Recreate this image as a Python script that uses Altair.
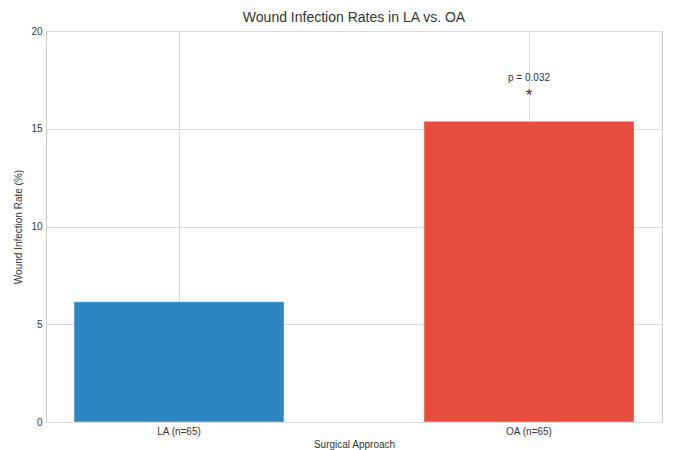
import altair as alt
import pandas as pd

groups = ["LA (n=65)", "OA (n=65)"]
rates = [6.15, 15.38]
colors = ["#2E86C1", "#E74C3C"]

ann_group = ["OA (n=65)"]
p_text = ["p = 0.032"]
p_y = [17.6]
star_text = ["*"]
star_y = [16.85]

df = pd.DataFrame({"group": groups, "rate": rates, "color": colors})
ann_p = pd.DataFrame({"group": ann_group, "y": p_y, "t": p_text})
ann_s = pd.DataFrame({"group": ann_group, "y": star_y, "t": star_text})

xenc = alt.X("group:N", sort=groups, title="Surgical Approach",
             scale=alt.Scale(paddingInner=0.4, paddingOuter=0.08),
             axis=alt.Axis(labelAngle=0, ticks=False, grid=True, gridColor="#d9d9d9",
                           domain=False, labelFontSize=10, labelColor="#333333",
                           titleFontSize=10, titleColor="#333333", titleFontWeight="normal",
                           labelPadding=4, titlePadding=3, titleFont="Liberation Sans",
                           labelFont="Liberation Sans"))

bars = alt.Chart(df).mark_bar(stroke="#ffffff", strokeOpacity=0.4, strokeWidth=1).encode(
    x=xenc,
    y=alt.Y("rate:Q", title="Wound Infection Rate (%)",
            scale=alt.Scale(domain=[0, 20]),
            axis=alt.Axis(values=[0, 5, 10, 15, 20], ticks=False, domain=False,
                          gridColor="#d9d9d9", labelFontSize=10, labelColor="#333333",
                          titleFontSize=10, titleColor="#333333", titleFontWeight="normal",
                          labelPadding=4, titlePadding=7, titleFont="Liberation Sans",
                          labelFont="Liberation Sans")),
    color=alt.Color("color:N", scale=None),
)

ptxt = alt.Chart(ann_p).mark_text(fontSize=10, color="#333333", font="Liberation Sans").encode(
    x=alt.X("group:N", sort=groups), y="y:Q", text="t:N")
stxt = alt.Chart(ann_s).mark_text(fontSize=17, color="#333333", font="Liberation Sans", baseline="middle", dy=3).encode(
    x=alt.X("group:N", sort=groups), y="y:Q", text="t:N")

chart = alt.layer(bars, ptxt, stxt).properties(
    width=616, height=391,
    title=alt.Title("Wound Infection Rates in LA vs. OA", fontSize=14, fontWeight="normal",
                    color="#333333", font="Liberation Sans", offset=1),
    autosize=alt.AutoSizeParams(type="none"),
    padding={"left": 38, "top": 23, "right": 11, "bottom": 28},
).configure_view(stroke="#cccccc", strokeWidth=1)

chart.save("out.html", embed_options={"renderer": "svg", "actions": False})
